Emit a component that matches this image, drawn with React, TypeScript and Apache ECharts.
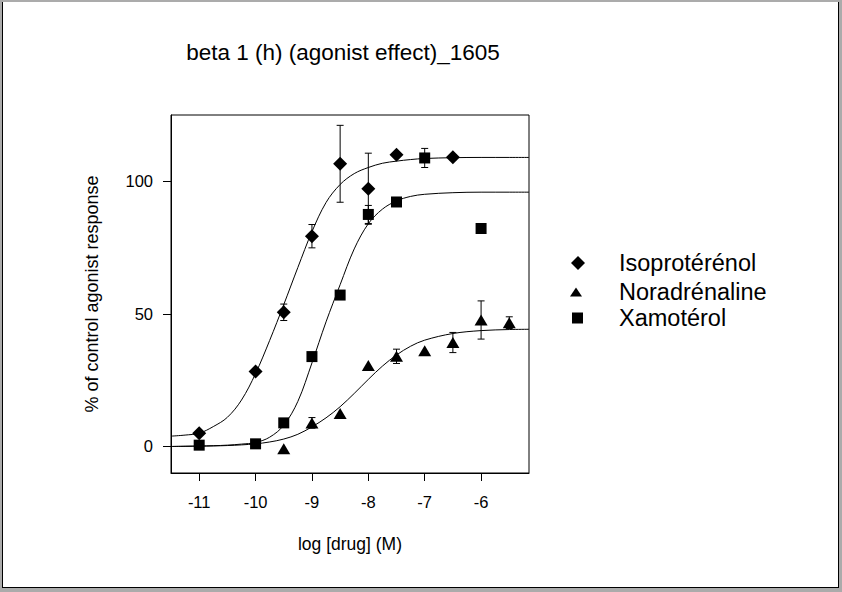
import React, { useEffect, useRef } from 'react';
import * as echarts from 'echarts';

// Text
const TITLE = 'beta 1 (h) (agonist effect)_1605';
const X_NAME = 'log [drug] (M)';
const Y_NAME = '% of control agonist response';
const X_TICKS = [-11, -10, -9, -8, -7, -6];
const Y_TICKS = [0, 50, 100];

// Measured responses (mean, SEM)
const ISO = 'Isoprotérénol';
const isoX = [-11, -10, -9.5, -9, -8.5, -8, -7.5, -6.5];
const isoY = [5, 28.3, 50.6, 79.3, 106.6, 97.2, 110, 109.1];
const isoErr = [0, 0, 3.1, 4.4, 14.5, 13.4, 0, 1];

const NORA = 'Noradrénaline';
const noraX = [-9.5, -9, -8.5, -8, -7.5, -7, -6.5, -6, -5.5];
const noraY = [-0.9, 8.9, 12.4, 30.5, 34, 36.1, 39.2, 47.7, 46.7];
const noraErr = [0, 2, 0, 0, 2.7, 0, 3.8, 7.2, 2.2];

const XAM = 'Xamotérol';
const xamX = [-11, -10, -9.5, -9, -8.5, -8, -7.5, -7, -6];
const xamY = [0.5, 1.0, 8.9, 33.9, 57.1, 87.5, 92.2, 108.8, 82.2];
const xamErr = [0, 0, 0, 0, 0, 3.4, 0, 3.6, 0];

// Fitted concentration-response curves
const fitX = [-11.5, -11.25, -11, -10.75, -10.5, -10.25, -10, -9.75, -9.5, -9.25, -9, -8.75, -8.5, -8.25, -8, -7.75, -7.5, -7.25, -7, -6.5, -6, -5.5, -5.15];
const isoFit = [3.9, 4.3, 5.0, 7.5, 11, 17.5, 27.5, 40, 53.5, 67.5, 81, 92, 98.8, 102.9, 105.2, 106.8, 107.6, 108.2, 108.6, 108.9, 109, 109, 109];
const noraFit = [0, 0.05, 0.1, 0.2, 0.35, 0.6, 1.0, 1.7, 2.8, 4.6, 7.4, 10.8, 15, 20, 25.3, 30.3, 34.5, 37.8, 40.1, 42.6, 43.7, 44.1, 44.2];
const xamFit = [0, 0.1, 0.2, 0.3, 0.5, 0.9, 1.5, 3.5, 8, 17, 31.5, 47, 61, 74.5, 84, 89.5, 92.6, 94.3, 95.1, 95.7, 95.9, 95.9, 95.9];

const FONT = '"Liberation Sans", Arial, Helvetica, sans-serif';
const INK = '#000000';

const pairs = (xs: number[], ys: number[]) => xs.map((x, i) => [x, ys[i]]);

function curveSeries(name: string, ys: number[]) {
  return {
    type: 'line',
    name,
    data: pairs(fitX, ys),
    smooth: 0.35,
    showSymbol: false,
    silent: true,
    lineStyle: { color: INK, width: 1 },
    z: 1,
  };
}

function errorSeries(name: string, xs: number[], ys: number[], errs: number[]) {
  return {
    type: 'custom',
    name,
    silent: true,
    z: 2,
    data: xs
      .map((x, i) => [x, ys[i] - errs[i], ys[i] + errs[i], errs[i]])
      .filter((d) => d[3] > 0),
    renderItem: (_params: any, api: any) => {
      const x = api.value(0);
      const top = api.coord([x, api.value(2)]);
      const bot = api.coord([x, api.value(1)]);
      const hw = 3.5;
      const style = { stroke: INK, lineWidth: 1 };
      return {
        type: 'group',
        children: [
          { type: 'line', shape: { x1: top[0], y1: top[1], x2: bot[0], y2: bot[1] }, style },
          { type: 'line', shape: { x1: top[0] - hw, y1: top[1], x2: top[0] + hw, y2: top[1] }, style },
          { type: 'line', shape: { x1: bot[0] - hw, y1: bot[1], x2: bot[0] + hw, y2: bot[1] }, style },
        ],
      };
    },
  };
}

function pointSeries(name: string, xs: number[], ys: number[], symbol: string, size: any) {
  return {
    type: 'scatter',
    name,
    data: pairs(xs, ys),
    symbol,
    symbolSize: size,
    itemStyle: { color: INK, opacity: 1 },
    silent: true,
    z: 3,
  };
}

function legendFor(name: string, icon: string, top: number, left: number, w: number, h: number, pad: number) {
  return {
    data: [{ name, icon }],
    orient: 'vertical',
    left,
    top,
    padding: 0,
    itemWidth: w,
    itemHeight: h,
    symbolKeepAspect: false,
    selectedMode: false,
    itemStyle: { color: INK },
    textStyle: { fontSize: 23.5, color: INK, fontFamily: FONT, padding: [0, 0, 0, pad] },
  };
}

export default function App() {
  const ref = useRef<HTMLDivElement>(null);

  useEffect(() => {
    if (!ref.current) return;
    const chart = echarts.init(ref.current, null, { renderer: 'svg' });

    chart.setOption({
      animation: false,
      graphic: {
        elements: [
          { type: 'rect', z: -30, silent: true, shape: { x: 0, y: 0, width: 842, height: 592 }, style: { fill: '#ababab' } },
          { type: 'rect', z: -20, silent: true, shape: { x: 2, y: 2, width: 837, height: 586 }, style: { fill: '#000000' } },
          { type: 'rect', z: -10, silent: true, shape: { x: 3, y: 2, width: 835, height: 585 }, style: { fill: '#ffffff' } },
          {
            type: 'text',
            z: 10,
            silent: true,
            x: 343,
            y: 52,
            style: {
              text: TITLE,
              fill: INK,
              font: `22.5px ${FONT}`,
              textAlign: 'center',
              textVerticalAlign: 'middle',
            },
          },
        ],
      },
      legend: [
        legendFor(ISO, 'diamond', 251, 571, 14, 14, 29),
        legendFor(NORA, 'triangle', 280, 570, 12, 9, 32),
        legendFor(XAM, 'rect', 306, 572, 11, 11, 31),
      ],
      grid: {
        left: 171,
        top: 115,
        width: 358,
        height: 358,
        show: true,
        borderColor: INK,
        borderWidth: 1,
        backgroundColor: 'transparent',
      },
      xAxis: {
        type: 'value',
        min: -11.5,
        max: -5.15,
        name: X_NAME,
        nameLocation: 'middle',
        nameGap: 62,
        nameTextStyle: { fontSize: 17.5, color: INK, fontFamily: FONT },
        axisLine: { show: true, onZero: false, lineStyle: { color: INK, width: 1 } },
        axisTick: { show: true, inside: false, length: 8, customValues: X_TICKS, lineStyle: { color: INK, width: 1 } },
        axisLabel: { customValues: X_TICKS, fontSize: 16.5, color: INK, fontFamily: FONT, margin: 20 },
        splitLine: { show: false },
      },
      yAxis: {
        type: 'value',
        min: -10,
        max: 125,
        name: Y_NAME,
        nameLocation: 'middle',
        nameGap: 70,
        nameTextStyle: { fontSize: 18, color: INK, fontFamily: FONT },
        axisLine: { show: true, onZero: false, lineStyle: { color: INK, width: 1 } },
        axisTick: { show: true, inside: false, length: 8, customValues: Y_TICKS, lineStyle: { color: INK, width: 1 } },
        axisLabel: { customValues: Y_TICKS, fontSize: 16.5, color: INK, fontFamily: FONT, margin: 18 },
        splitLine: { show: false },
      },
      series: [
        curveSeries(ISO + ' fit', isoFit),
        curveSeries(NORA + ' fit', noraFit),
        curveSeries(XAM + ' fit', xamFit),
        errorSeries(ISO + ' SEM', isoX, isoY, isoErr),
        errorSeries(NORA + ' SEM', noraX, noraY, noraErr),
        errorSeries(XAM + ' SEM', xamX, xamY, xamErr),
        pointSeries(ISO, isoX, isoY, 'diamond', 14),
        pointSeries(NORA, noraX, noraY, 'triangle', [13, 11]),
        pointSeries(XAM, xamX, xamY, 'rect', 11),
      ],
    });

    return () => chart.dispose();
  }, []);

  return (
    <div
      ref={ref}
      style={{ position: 'fixed', left: 0, top: 0, width: 842, height: 592, background: '#ffffff' }}
    />
  );
}
